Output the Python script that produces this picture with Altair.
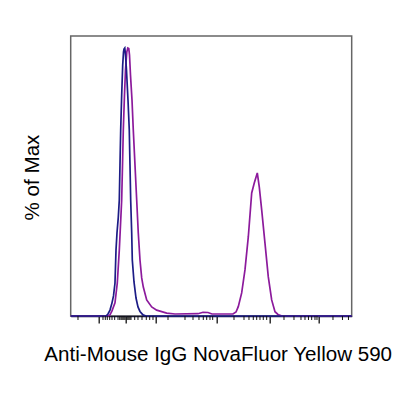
import altair as alt
import pandas as pd

# Channel scale 0..1024 (biexponential display), % of Max
navy_ch = [0, 128.6, 135.9, 143.2, 150.5, 156.0, 161.4, 165.1, 168.7, 173.5, 177.1,
           179.6, 182.2, 185.8, 189.5, 192.4, 194.2, 197.1, 199.7, 203.3, 208.8,
           213.5, 216.1, 218.6, 222.3, 224.5, 230.7, 238.0, 245.2, 252.5, 263.5,
           274.4, 1024]
navy_pct = [0, 0, 0.75, 2.2, 4.9, 7.5, 12.3, 24.6, 31.0, 36.9, 43.3,
            56.3, 69.4, 82.5, 93.7, 98.5, 99.6, 100, 97.4, 91.8, 80.6,
            69.4, 56.3, 43.3, 31.0, 20.9, 12.7, 6.7, 3.4, 1.7, 0.4,
            0, 0]

purple_ch = [0, 135.9, 143.2, 150.5, 161.4, 169.8, 177.1, 185.8, 188.8, 191.7,
             196.0, 199.7, 204.4, 208.1, 211.7, 214.3, 217.9, 223.4, 228.1, 234.3,
             240.5, 246.3, 252.5, 258.7, 264.6, 276.9, 295.2, 313.4, 349.8, 380.1,
             463.9, 482.1, 500.3, 514.9, 591.4, 602.4, 610.7, 623.1, 635.1, 647.2,
             659.6, 669.0, 680.0, 687.3, 696.0, 708.0, 720.1, 732.4, 744.5, 755.4,
             770.0, 1024]
purple_pct = [0, 0, 0.4, 1.9, 4.9, 12.3, 24.6, 43.3, 56.3, 69.4,
              82.5, 91.8, 98.5, 100, 99.8, 97.4, 89.9, 80.6, 69.4, 56.3,
              43.3, 31.0, 20.9, 14.2, 10.8, 6.0, 3.4, 2.2, 1.1, 0.75,
              0.86, 1.4, 1.3, 0.75, 0.75, 1.5, 3.5, 8.6, 17.2, 29.5,
              45.9, 49.6, 53.4, 48.1, 39.6, 27.2, 14.6, 6.0, 1.6, 0.56,
              0, 0]

major_ticks = [101.3, 201.5, 310.8, 533.1, 726.2, 904.8]
minor_ticks = [26.6, 117.7, 126.1, 133.4, 142.1, 150.5, 160.3, 172.4, 178.6,
               183.3, 186.9, 190.6, 194.2, 197.9, 205.2, 208.8, 212.4, 216.1, 219.7,
               233.2, 245.2, 259.8, 275.5, 287.9, 299.9,
               354.6, 416.5, 445.7, 467.5, 483.2, 495.6, 507.6, 517.4,
               595.1, 631.5, 649.7, 665.4, 677.8, 689.8, 701.8, 714.2,
               777.3, 813.7, 839.2, 853.8, 866.5, 878.2, 890.2, 897.5,
               955.8, 990.4, 1012.3]

navy_df = pd.DataFrame({"ch": navy_ch, "pct": navy_pct})
purple_df = pd.DataFrame({"ch": purple_ch, "pct": purple_pct})
minor_df = pd.DataFrame({"ch": minor_ticks})

FONT = "Liberation Sans"
XT = "Anti-Mouse IgG NovaFluor Yellow 590"

x_scale = alt.Scale(domain=[0, 1024], nice=False, zero=False)
y_scale = alt.Scale(domain=[0, 104.5], nice=False, zero=True)

x_axis = alt.Axis(values=major_ticks, labels=False, tickSize=7, tickWidth=1.3,
                  tickColor="#111", domainColor="#1a1a3a", domainWidth=1.5,
                  grid=False, titleFont=FONT, titleFontSize=20.6,
                  titleFontWeight="normal", titleColor="#000",
                  titleX=147, titleY=45, titleBaseline="alphabetic")
y_axis = alt.Axis(labels=False, ticks=False, domain=False, grid=False,
                  titleFont=FONT, titleFontSize=20.6, titleFontWeight="normal",
                  titleColor="#000", titleAngle=270, titleX=-32, titleY=141,
                  titleBaseline="alphabetic", titleAlign="center")

x_enc = alt.X("ch:Q", scale=x_scale, axis=x_axis, title=XT)
y_enc = alt.Y("pct:Q", scale=y_scale, axis=y_axis, title="% of Max")

purple = alt.Chart(purple_df).mark_line(color="#8c1a9c", strokeWidth=1.7).encode(
    x=x_enc, y=y_enc)
navy = alt.Chart(navy_df).mark_line(color="#1c1c86", strokeWidth=1.7).encode(
    x=x_enc, y=y_enc)
minor = alt.Chart(minor_df).mark_rule(color="#111", strokeWidth=1).encode(
    x=x_enc, y=alt.value(280), y2=alt.value(284))

chart = alt.layer(purple, navy, minor).properties(
    width=281, height=280,
    autosize=alt.AutoSizeParams(type="none"),
    padding={"left": 62.7, "top": 28, "right": 40, "bottom": 80},
).configure_view(stroke="#666", strokeWidth=1.5)

chart.save("out.html", embed_options={"renderer": "svg", "actions": False})
